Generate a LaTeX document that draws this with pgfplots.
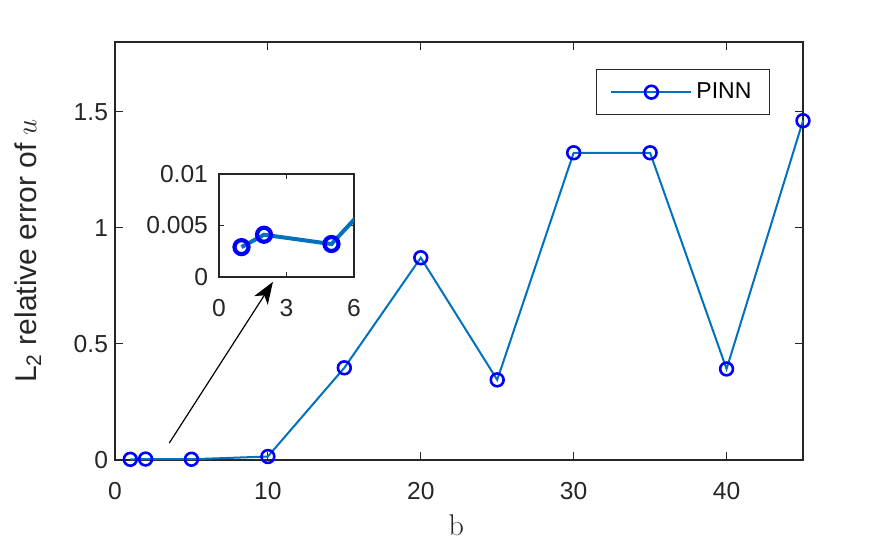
\documentclass[border=0pt]{standalone}
\usepackage{fontspec}
\setsansfont{Liberation Sans}
\usepackage{pgfplots}
\pgfplotsset{compat=1.18}
\usetikzlibrary{arrows.meta}
\definecolor{mblue}{rgb}{0,0.447,0.741}
\definecolor{axgray}{rgb}{0.15,0.15,0.15}
\begin{document}
\begin{tikzpicture}
\begin{axis}[
  at={(0,0)}, anchor=south west,
  scale only axis, width=344pt, height=209pt,
  xmin=0, xmax=45, ymin=0, ymax=1.8,
  xtick={0,10,20,30,40}, ytick={0,0.5,1,1.5},
  tick align=inside, tick pos=both,
  major tick length=4pt,
  axis line style={axgray, line width=0.6pt},
  every tick/.style={axgray, line width=0.6pt},
  /pgf/number format/assume math mode=true,
  tick label style={font=\sffamily\fontsize{12.3}{14}\selectfont, text=axgray},
  xticklabel style={yshift=-7.5pt},
  xlabel={b},
  xlabel style={font=\rmfamily\fontsize{15}{17}\selectfont, text=axgray, at={(axis description cs:0.496,0)}, anchor=center, yshift=-32.5pt},
  ylabel={L\textsubscript{2} relative error of $u$},
  ylabel style={font=\sffamily\fontsize{15}{17}\selectfont, text=axgray, at={(axis description cs:-0.1265,0.5)}, anchor=center},
  legend style={at={(0.952,0.935)}, anchor=north east, draw=axgray, line width=0.6pt, font=\sffamily\fontsize{11.5}{13}\selectfont, inner xsep=7pt, inner ysep=4.5pt},
  legend cell align=left,
  legend image code/.code={\draw[mark repeat=2,mark phase=2,#1] plot coordinates {(0pt,0pt) (20pt,0pt) (40pt,0pt)};},
  clip=false,
]
\addplot[color=mblue, line width=1pt, mark=o, mark size=3.2pt, mark options={draw=blue, fill=white, line width=1.3pt}]
  coordinates {(1,0.0029) (2,0.0041) (5,0.0032) (10,0.015) (15,0.397) (20,0.871) (25,0.345) (30,1.323) (35,1.323) (40,0.392) (45,1.461)};
\addlegendentry{PINN}
\draw[-{Stealth[length=11pt,width=8pt,inset=3pt]}, line width=0.6pt, black] (axis cs:3.55,0.073) -- (axis cs:10.33,0.767);
\end{axis}
\begin{axis}[
  at={(52pt,91.5pt)}, anchor=south west,
  scale only axis, width=67.5pt, height=51.5pt,
  xmin=0, xmax=6, ymin=0, ymax=0.01,
  xtick={0,3,6}, ytick={0,0.005,0.01},
  scaled y ticks=false,
  yticklabels={0,0.005,0.01},
  tick align=inside, tick pos=both,
  major tick length=2.5pt,
  axis line style={axgray, line width=0.6pt},
  every tick/.style={axgray, line width=0.6pt},
  /pgf/number format/assume math mode=true,
  tick label style={font=\sffamily\fontsize{12.3}{14}\selectfont, text=axgray},
  xticklabel style={yshift=-7.5pt},
  yticklabel style={xshift=-2pt},
  axis background/.style={fill=white},
]
\addplot[color=mblue, line width=2pt, mark=o, mark size=3.5pt, mark options={draw=blue, fill=white, line width=2.1pt}]
  coordinates {(1,0.0029) (2,0.0041) (5,0.0032) (10,0.015)};
\end{axis}
\pgfresetboundingbox
\path (-57.5pt,-42pt) rectangle (384pt,230pt);
\end{tikzpicture}
\end{document}
